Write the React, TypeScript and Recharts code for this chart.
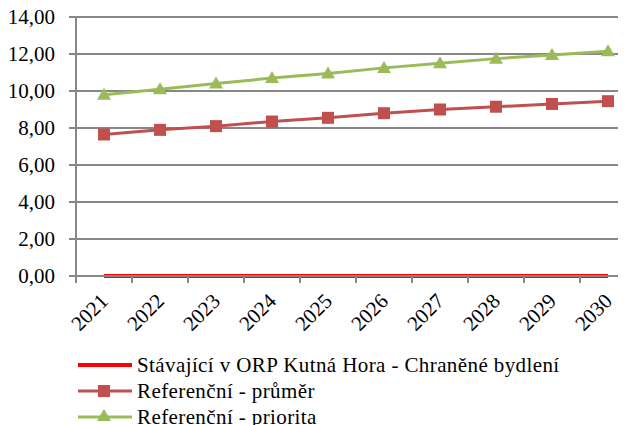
import React from 'react';
import { LineChart, Line, XAxis, YAxis, CartesianGrid, Legend } from 'recharts';

const years = ['2021', '2022', '2023', '2024', '2025', '2026', '2027', '2028', '2029', '2030'];
const stavajici = [0, 0, 0, 0, 0, 0, 0, 0, 0, 0];
const prumer = [7.65, 7.9, 8.1, 8.35, 8.55, 8.8, 9.0, 9.15, 9.3, 9.45];
const priorita = [9.8, 10.1, 10.4, 10.7, 10.95, 11.25, 11.5, 11.75, 11.95, 12.15];
const yTicks = [0, 2, 4, 6, 8, 10, 12, 14];

const seriesNames = [
  'Stávající v ORP Kutná Hora - Chraněné bydlení',
  'Referenční - průměr',
  'Referenční - priorita',
];

const data = years.map((year, i) => ({
  year,
  stavajici: stavajici[i],
  prumer: prumer[i],
  priorita: priorita[i],
}));

const FONT = '"Liberation Serif", serif';
const FONT_SIZE = 21;
const GRID = '#878787';
const RED = '#FF0000';
const BRICK = '#C0504D';
const GREEN = '#9BBB59';

const CHART_W = 640;
const CHART_H = 417;
const Y_AXIS_W = 68;
const MARGIN = { top: 9, right: 12, left: 0, bottom: 0 };
const BAND = (CHART_W - MARGIN.left - MARGIN.right - Y_AXIS_W) / years.length;

const SquareDot = (props: any) => {
  const { cx, cy, index } = props;
  if (cx == null || cy == null) return null;
  return <rect key={`sq-${index}`} x={cx - 6} y={cy - 6} width={12} height={12} fill={BRICK} />;
};

const TriangleDot = (props: any) => {
  const { cx, cy, index } = props;
  if (cx == null || cy == null) return null;
  return (
    <path
      key={`tr-${index}`}
      d={`M${cx},${cy - 7} L${cx + 7},${cy + 5} L${cx - 7},${cy + 5} Z`}
      fill={GREEN}
    />
  );
};

const YearTick = (props: any) => {
  const { x, y, payload, index } = props;
  const axisY = y - 8;
  const tx = x - 5;
  const ty = axisY + 16;
  return (
    <g>
      <line x1={x - BAND / 2} x2={x - BAND / 2} y1={axisY} y2={axisY + 7} stroke={GRID} strokeWidth={2} />
      {index === years.length - 1 && (
        <line x1={x + BAND / 2} x2={x + BAND / 2} y1={axisY} y2={axisY + 7} stroke={GRID} strokeWidth={2} />
      )}
      <text
        x={tx}
        y={ty}
        transform={`rotate(-45, ${tx}, ${ty})`}
        textAnchor="end"
        dy="0.7em"
        fontFamily={FONT}
        fontSize={FONT_SIZE}
        fill="#000"
      >
        {payload.value}
      </text>
    </g>
  );
};

const LegendContent = () => {
  const markers = [
    null,
    <rect x={20} y={7} width={12} height={12} fill={BRICK} />,
    <path d="M26,5 L33,17 L19,17 Z" fill={GREEN} />,
  ];
  const colors = [RED, BRICK, GREEN];
  return (
    <div style={{ fontFamily: FONT, fontSize: FONT_SIZE, color: '#000', letterSpacing: 0.4 }}>
      {seriesNames.map((name, i) => (
        <div key={name} style={{ display: 'flex', alignItems: 'center', height: 26 }}>
          <svg width={59} height={26} style={{ flex: 'none' }}>
            <line x1={0} x2={54} y1={13} y2={13} stroke={colors[i]} strokeWidth={i === 0 ? 4 : 3} />
            {markers[i]}
          </svg>
          <span style={{ whiteSpace: 'nowrap' }}>{name}</span>
        </div>
      ))}
    </div>
  );
};

export default function App() {
  return (
    <div style={{ width: 618, height: CHART_H, overflow: 'hidden' }}>
      <LineChart width={CHART_W} height={CHART_H} data={data} margin={MARGIN}>
        <CartesianGrid vertical={false} stroke={GRID} strokeWidth={2} />
        <XAxis
          dataKey="year"
          height={71}
          padding={{ left: BAND / 2, right: BAND / 2 }}
          axisLine={{ stroke: GRID, strokeWidth: 2 }}
          tickLine={false}
          interval={0}
          tick={<YearTick />}
        />
        <YAxis
          width={Y_AXIS_W}
          domain={[0, 14]}
          ticks={yTicks}
          interval={0}
          tickSize={7}
          tickMargin={14}
          axisLine={{ stroke: GRID, strokeWidth: 2 }}
          tickLine={{ stroke: GRID, strokeWidth: 2 }}
          tick={{ fontFamily: FONT, fontSize: FONT_SIZE, fill: '#000' }}
          tickFormatter={(v: number) => v.toFixed(2).replace('.', ',')}
        />
        <Legend
          layout="horizontal"
          align="left"
          verticalAlign="bottom"
          wrapperStyle={{ left: 70, bottom: -5, width: 'auto' }}
          content={<LegendContent />}
        />
        <Line
          dataKey="stavajici"
          name={seriesNames[0]}
          stroke={RED}
          strokeWidth={4}
          dot={false}
          activeDot={false}
          isAnimationActive={false}
        />
        <Line
          dataKey="prumer"
          name={seriesNames[1]}
          stroke={BRICK}
          strokeWidth={3}
          dot={<SquareDot />}
          activeDot={false}
          isAnimationActive={false}
        />
        <Line
          dataKey="priorita"
          name={seriesNames[2]}
          stroke={GREEN}
          strokeWidth={3}
          dot={<TriangleDot />}
          activeDot={false}
          isAnimationActive={false}
        />
      </LineChart>
    </div>
  );
}
